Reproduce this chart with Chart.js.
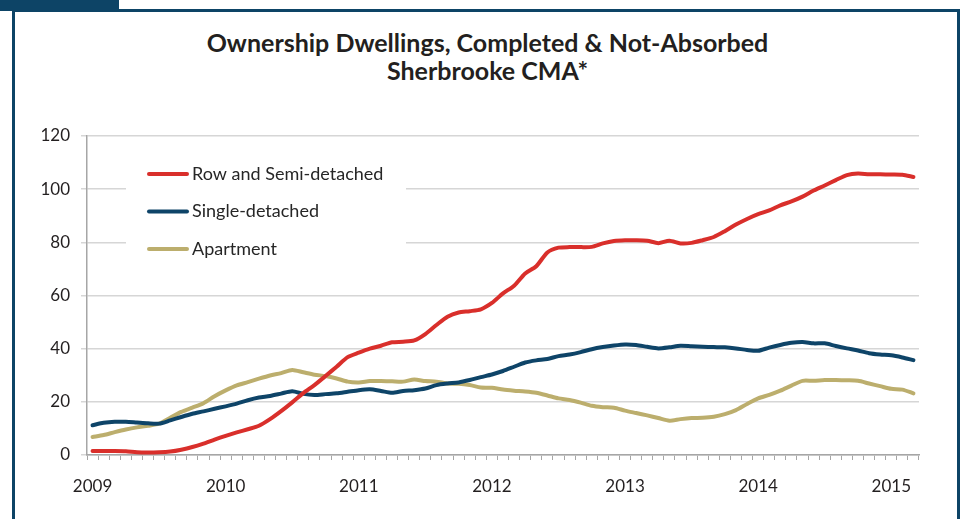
<!DOCTYPE html>
<html>
<head>
<meta charset="utf-8">
<title>Ownership Dwellings, Completed &amp; Not-Absorbed - Sherbrooke CMA</title>
<script src="https://cdn.jsdelivr.net/npm/chart.js@4.4.1/dist/chart.umd.min.js"></script>
<style>
  body { margin: 0; background: #fff; width: 962px; height: 519px; overflow: hidden; position: relative; }
  #tab { position: absolute; left: 0; top: 0; width: 119px; height: 11px; background: #0d4466; }
  #frame { position: absolute; left: 12px; top: 9px; width: 948px; height: 560px; box-sizing: border-box; border: 3px solid #0d4466; }
  #title { position: absolute; left: 0; top: 28px; width: 975px; text-align: center; font: bold 25px/28px Lato, sans-serif; color: #231f20; }
  #line-chart-1 { position: absolute; left: 0; top: 0; }
</style>
</head>
<body>
<div id="tab"></div>
<div id="frame"></div>
<div id="title">Ownership Dwellings, Completed &amp; Not-Absorbed<br>Sherbrooke CMA*</div>
<canvas id="line-chart-1" width="962" height="519"></canvas>
<script>
// DATA
// one point per month, Jan 2009 to Mar 2015
const yearLabels = ["2009", "2010", "2011", "2012", "2013", "2014", "2015"];
const monthNames = ["Jan", "Feb", "Mar", "Apr", "May", "Jun", "Jul", "Aug", "Sep", "Oct", "Nov", "Dec"];
const lastYearMonths = 3;

const seriesNames = ["Row and Semi-detached", "Single-detached", "Apartment"];
const seriesColors = ["#d92f2b", "#0e4468", "#bcae6d"];

const rowSemi = [
  1.5, 1.5, 1.5, 1.4, 1.0, 0.9, 1.0, 1.3, 2.0, 3.0, 4.3, 5.8,
  7.2, 8.5, 9.7, 11.0, 13.5, 16.5, 19.8, 23.3, 26.3, 29.7, 33.2, 36.8,
  38.5, 40.0, 41.1, 42.4, 42.6, 43.1, 45.5, 48.9, 52.0, 53.6, 54.1, 54.8,
  57.2, 60.8, 63.7, 68.3, 71.0, 76.2, 78.0, 78.2, 78.2, 78.3, 79.6, 80.5,
  80.8, 80.8, 80.6, 79.7, 80.6, 79.6, 79.8, 80.8, 82.0, 84.2, 86.7, 88.8,
  90.6, 92.0, 93.9, 95.4, 97.2, 99.5, 101.4, 103.4, 105.3, 105.9, 105.6, 105.6,
  105.5, 105.4, 104.6
];
const singleDetached = [
  11.2, 12.1, 12.5, 12.5, 12.2, 11.9, 11.8, 13.0, 14.3, 15.5, 16.4, 17.4,
  18.3, 19.3, 20.6, 21.6, 22.2, 23.1, 24.0, 23.0, 22.6, 22.9, 23.2, 23.8,
  24.4, 24.7, 24.1, 23.4, 24.1, 24.4, 25.0, 26.3, 26.9, 27.3, 28.2, 29.3,
  30.3, 31.6, 33.2, 34.8, 35.6, 36.1, 37.2, 37.8, 38.7, 39.8, 40.6, 41.2,
  41.6, 41.4, 40.7, 40.1, 40.5, 41.1, 40.9, 40.7, 40.6, 40.5, 40.1, 39.5,
  39.2, 40.4, 41.4, 42.2, 42.5, 42.0, 42.0, 41.0, 40.1, 39.3, 38.3, 37.8,
  37.5, 36.7, 35.7
];
const apartment = [
  6.8, 7.5, 8.6, 9.6, 10.4, 11.0, 11.8, 14.0, 16.2, 17.8, 19.5, 22.1,
  24.3, 26.2, 27.4, 28.7, 29.9, 30.8, 32.0, 31.1, 30.2, 29.7, 28.8, 27.6,
  27.3, 27.8, 27.8, 27.7, 27.6, 28.4, 27.8, 27.6, 26.9, 26.8, 26.3, 25.4,
  25.3, 24.6, 24.2, 23.9, 23.4, 22.4, 21.3, 20.7, 19.7, 18.5, 18.0, 17.8,
  16.7, 15.8, 14.9, 13.9, 12.9, 13.5, 13.9, 14.0, 14.4, 15.4, 16.9, 19.2,
  21.3, 22.6, 24.2, 26.1, 27.9, 27.9, 28.2, 28.2, 28.1, 27.9, 26.9, 25.9,
  24.9, 24.6, 23.2
];

const yMin = 0;
const yMax = 120;
const yStep = 20;

// month categories
var months = [];
yearLabels.forEach((year, yi) => {
  const count = yi === yearLabels.length - 1 ? lastYearMonths : 12;
  for (let m = 0; m < count; m++) {
    months.push(monthNames[m] + " " + year);
  }
});

// LEGEND inside the plot, top left
const insideLegend = {
  id: "insideLegend",
  beforeDatasetsDraw(chart) {
    const ctx = chart.ctx;
    ctx.save();
    ctx.fillStyle = "#ffffff";
    ctx.fillRect(126, 152, 280, 116);
    chart.data.datasets.forEach((ds, i) => {
      const cy = 174 + i * 37.5;
      ctx.strokeStyle = ds.borderColor;
      ctx.lineWidth = 4;
      ctx.lineCap = "round";
      ctx.beginPath();
      ctx.moveTo(149, cy);
      ctx.lineTo(187, cy);
      ctx.stroke();
      ctx.fillStyle = "#262626";
      ctx.font = "18px Lato";
      ctx.textBaseline = "middle";
      ctx.fillText(ds.label, 192, cy);
    });
    ctx.restore();
  }
};

const tickFont = { family: "Lato", size: 17 };

new Chart("line-chart-1", {
  type: "line",
  data: {
    labels: months,
    datasets: [
      { label: seriesNames[0], data: rowSemi, borderColor: seriesColors[0] },
      { label: seriesNames[1], data: singleDetached, borderColor: seriesColors[1] },
      { label: seriesNames[2], data: apartment, borderColor: seriesColors[2] }
    ]
  },
  options: {
    responsive: false,
    animation: false,
    devicePixelRatio: 1,
    layout: { padding: { left: 0, right: 43, top: 136, bottom: 0 } },
    elements: {
      point: { radius: 0 },
      line: { borderWidth: 4, tension: 0.25, borderCapStyle: "round", borderJoinStyle: "round" }
    },
    plugins: {
      legend: { display: false },
      tooltip: { enabled: false },
      title: { display: false }
    },
    scales: {
      x: {
        offset: true,
        grid: { offset: true, drawOnChartArea: false, drawTicks: true, tickLength: 5, color: "#a6a6a6", lineWidth: 1 },
        border: { color: "#a6a6a6", width: 1.5 },
        ticks: {
          autoSkip: false,
          maxRotation: 0,
          padding: 16,
          color: "#231f20",
          font: tickFont,
          callback: function (v, i) {
            return i % 12 === 0 ? yearLabels[i / 12] : "";
          }
        },
        afterFit: function (scale) { scale.height = 64; }
      },
      y: {
        min: yMin,
        max: yMax,
        grid: { color: "#d6d6d6", lineWidth: 1.5, tickLength: 6 },
        border: { color: "#a6a6a6", width: 1.5 },
        ticks: { stepSize: yStep, padding: 11, color: "#231f20", font: tickFont },
        afterFit: function (scale) { scale.width = 87; }
      }
    }
  },
  plugins: [insideLegend]
});
</script>
</body>
</html>
